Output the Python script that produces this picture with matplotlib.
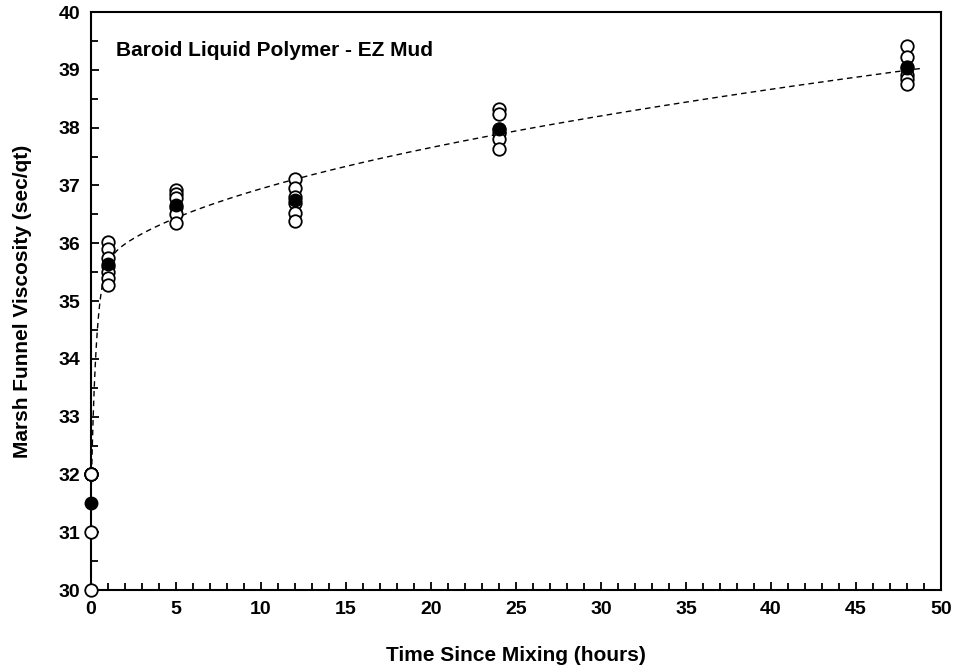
import numpy as np
import matplotlib
matplotlib.use("Agg")
import matplotlib.pyplot as plt
from matplotlib.ticker import MultipleLocator

# Temps depuis le mélange (heures) et viscosités mesurées (s/qt)
hours = [0, 1, 5, 12, 24, 48]
viscosity = [
    [30.0, 31.0, 32.0, 32.0, 32.0, 32.0],
    [36.03, 35.90, 35.75, 35.60, 35.50, 35.40, 35.28],
    [36.92, 36.85, 36.78, 36.62, 36.50, 36.35],
    [37.12, 36.95, 36.80, 36.70, 36.52, 36.38],
    [38.32, 38.24, 37.98, 37.90, 37.80, 37.63],
    [39.42, 39.22, 39.05, 38.92, 38.85, 38.76],
]
title_text = "Baroid Liquid Polymer - EZ Mud"

plt.rcParams["font.family"] = ["Liberation Sans", "DejaVu Sans"]
plt.rcParams["font.weight"] = "bold"

fig = plt.figure(figsize=(9.64, 6.72), dpi=100)
ax = fig.add_axes([0.0944, 0.122, 0.8816, 0.860])

# points individuels
for h, vals in zip(hours, viscosity):
    ax.plot([h] * len(vals), vals, "o", ms=9, mfc="white", mec="black",
            mew=1.3, clip_on=False, zorder=3)

# moyennes
means = [np.mean(v) for v in viscosity]
ax.plot(hours, means, "o", ms=9, mfc="black", mec="black", clip_on=False, zorder=4)

# courbe de tendance : a + b*(1-exp(-x/t)) + c*sqrt(x), moindres carrés
x_all = np.concatenate([[h] * len(v) for h, v in zip(hours, viscosity)]).astype(float)
y_all = np.concatenate(viscosity)
best = None
for t in np.linspace(0.05, 3, 300):
    A = np.column_stack([np.ones_like(x_all), 1 - np.exp(-x_all / t), np.sqrt(x_all)])
    coef, *_ = np.linalg.lstsq(A, y_all, rcond=None)
    err = np.sum((A @ coef - y_all) ** 2)
    if best is None or err < best[0]:
        best = (err, t, coef)
_, t_fit, c_fit = best
xf = np.linspace(0, 49, 800)
yf = c_fit[0] + c_fit[1] * (1 - np.exp(-xf / t_fit)) + c_fit[2] * np.sqrt(xf)
ax.plot(xf, yf, "--", color="black", lw=1.0, dashes=(4, 3), zorder=2)

ax.set_xlim(0, 50)
ax.set_ylim(30, 40)
ax.xaxis.set_major_locator(MultipleLocator(5))
ax.xaxis.set_minor_locator(MultipleLocator(1))
ax.yaxis.set_major_locator(MultipleLocator(1))
ax.yaxis.set_minor_locator(MultipleLocator(0.5))
ax.tick_params(which="both", direction="in", top=False, right=False,
               width=1.3, labelsize=14, pad=8)
ax.tick_params(which="major", length=6)
ax.tick_params(which="minor", length=5)
for s in ax.spines.values():
    s.set_linewidth(1.5)

ax.set_xlabel("Time Since Mixing (hours)", fontsize=15, fontweight="bold", labelpad=20)
ax.set_ylabel("Marsh Funnel Viscosity (sec/qt)", fontsize=15, fontweight="bold", labelpad=19)
ax.text(0.03, 0.95, title_text, transform=ax.transAxes, fontsize=15,
        fontweight="bold", va="top")

fig.savefig("out.png", dpi=100)
